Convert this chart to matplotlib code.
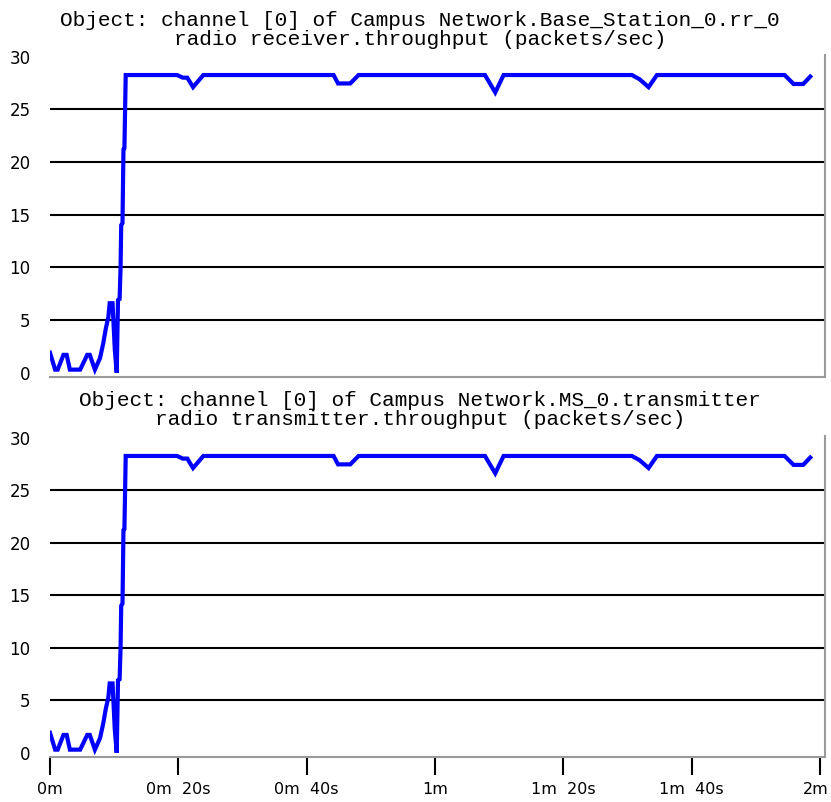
import numpy as np
import matplotlib.pyplot as plt
from matplotlib.transforms import ScaledTranslation

# throughput samples (time in seconds, packets/sec)
times = [0, 0.8, 1.2, 2.1, 2.6, 3.1, 4.7, 5.8, 6.2, 7.0, 7.8, 8.3, 8.7, 9.1,
         9.3, 9.75, 10.1, 10.4, 10.6, 10.85, 11.0, 11.1, 11.3, 11.45, 11.6, 11.8,
         19.8, 20.7, 21.4, 22.3, 23.9, 44.2, 44.9, 46.8, 48.1, 67.8, 69.4, 70.7,
         90.7, 91.9, 93.3, 94.6, 114.5, 115.9, 117.4, 118.5]
rx_throughput = [1.9, 0.3, 0.3, 1.7, 1.7, 0.3, 0.3, 1.7, 1.7, 0.3, 1.4, 2.8, 4.2, 5.3,
                 6.6, 6.6, 2.2, 0.0, 6.9, 7.0, 10.0, 14.0, 14.2, 21.2, 21.3, 28.25,
                 28.25, 28.0, 28.0, 27.1, 28.25, 28.25, 27.45, 27.45, 28.25, 28.25, 26.6, 28.25,
                 28.25, 27.85, 27.1, 28.25, 28.25, 27.4, 27.4, 28.1]
tx_throughput = list(rx_throughput)

titles = [
    "Object: channel [0] of Campus Network.Base_Station_0.rr_0\nradio receiver.throughput (packets/sec)",
    "Object: channel [0] of Campus Network.MS_0.transmitter\nradio transmitter.throughput (packets/sec)",
]
y_ticks = [0, 5, 10, 15, 20, 25, 30]
x_ticks = [0, 20, 40, 60, 80, 100, 120]
x_labels = ["0m", "0m  20s", "0m  40s", "1m", "1m  20s", "1m  40s", "2m"]

W, H = 831, 802
fig = plt.figure(figsize=(W / 100, H / 100), dpi=100)
fig.patch.set_facecolor("white")

# axes boxes in pixels: (left, top, right, bottom)
boxes = [(50, 55, 825, 377), (50, 436, 825, 757)]
title_tops = [11, 391]
series = [rx_throughput, tx_throughput]

for i, (l, t, r, b) in enumerate(boxes):
    ax = fig.add_axes([l / W, 1 - b / H, (r - l) / W, (b - t) / H])
    ax.plot(times, series[i], color="#0000ff", lw=3, solid_joinstyle="miter")
    ax.set_xlim(0, 120.8)
    ax.set_ylim(-0.4, 30.15)
    for yv in y_ticks[1:-1]:
        ax.axhline(yv, color="black", lw=1.5, zorder=0)
    ax.set_yticks(y_ticks)
    ax.tick_params(axis="y", length=0, pad=14, labelsize=12)
    for s in ["top", "left"]:
        ax.spines[s].set_visible(False)
    for s in ["bottom", "right"]:
        ax.spines[s].set_color("#9a9a9a")
        ax.spines[s].set_linewidth(1.5)
    if i == 1:
        ax.set_xticks(x_ticks)
        ax.set_xticklabels(x_labels)
        ax.tick_params(axis="x", length=13, width=1.5, color="black",
                       pad=5, labelsize=11.5)
        last = ax.get_xticklabels()[-1]
        last.set_ha("right")
        last.set_transform(last.get_transform() +
                           ScaledTranslation(9 / 100, 0, fig.dpi_scale_trans))
    else:
        ax.set_xticks([])
    fig.text(420 / W, 1 - title_tops[i] / H, titles[i], ha="center", va="top",
             family="Liberation Mono", fontsize=15.2, linespacing=1.0,
             multialignment="center", weight="medium")

fig.savefig("out.png", dpi=100, facecolor="white")
